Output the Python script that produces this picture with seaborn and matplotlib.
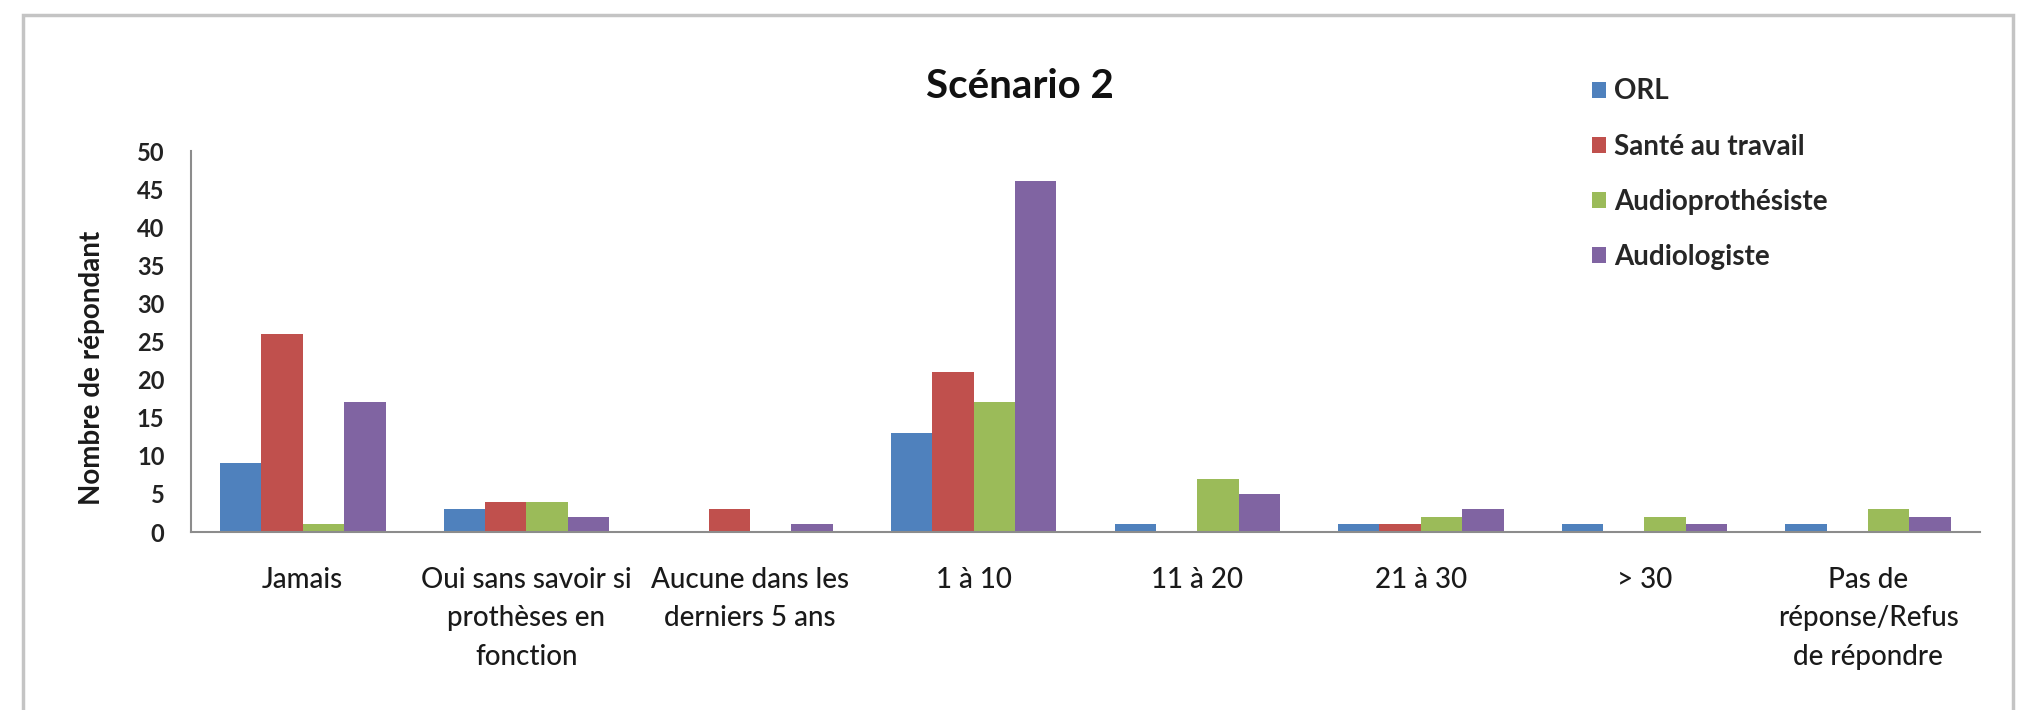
import matplotlib
matplotlib.use("Agg")
import matplotlib.pyplot as plt
import seaborn as sns
import pandas as pd
from matplotlib.patches import Rectangle

# Response categories (x axis)
categories = [
    "Jamais",
    "Oui sans savoir si\nprothèses en\nfonction",
    "Aucune dans les\nderniers 5 ans",
    "1 à 10",
    "11 à 20",
    "21 à 30",
    "> 30",
    "Pas de\nréponse/Refus\nde répondre",
]

# Respondent counts per profession
orl = [9, 3, 0, 13, 1, 1, 1, 1]
sante_travail = [26, 4, 3, 21, 0, 1, 0, 0]
audioprothesiste = [1, 4, 0, 17, 7, 2, 2, 3]
audiologiste = [17, 2, 1, 46, 5, 3, 1, 2]

series_names = ["ORL", "Santé au travail", "Audioprothésiste", "Audiologiste"]
series_values = [orl, sante_travail, audioprothesiste, audiologiste]
colors = ["#4F81BD", "#C0504D", "#9BBB59", "#8064A2"]

yticks = list(range(0, 55, 5))

rows = []
for name, vals in zip(series_names, series_values):
    for cat, v in zip(categories, vals):
        rows.append({"Catégorie": cat, "Profession": name, "Nombre": v})
df = pd.DataFrame(rows)

sns.set_theme(style="white")
plt.rcParams["font.family"] = ["Lato", "DejaVu Sans"]

fig = plt.figure(figsize=(20.23, 7.1), dpi=100)
fig.patch.set_facecolor("white")

# Light grey chart-area border
fig.patches.append(Rectangle((0.0114, -0.02), 0.9836, 0.999, transform=fig.transFigure,
                             fill=False, edgecolor="#C4C4C4", linewidth=2.5, zorder=0))

ax = fig.add_axes([0.0944, 0.2507, 0.8843, 0.5366])
sns.barplot(data=df, x="Catégorie", y="Nombre", hue="Profession",
            hue_order=series_names, order=categories, palette=colors,
            saturation=1, width=0.74, gap=0, linewidth=0, edgecolor="none",
            ax=ax, legend=True)

ax.set_ylim(0, 50)
ax.set_xlim(-0.5, len(categories) - 0.5)
ax.set_yticks(yticks)
ax.set_yticklabels([str(t) for t in yticks], fontsize=17, fontweight="bold", color="#222222")
ax.tick_params(axis="y", length=0, pad=19)
ax.tick_params(axis="x", length=0, pad=25)
for lab in ax.get_xticklabels():
    lab.set_fontsize(20)
    lab.set_fontweight("medium")
    lab.set_linespacing(1.6)
    lab.set_color("#1A1A1A")
ax.set_xlabel("")
ax.set_ylabel("Nombre de répondant", fontsize=20, fontweight="bold", color="#1A1A1A")
ax.yaxis.set_label_coords(-0.048, 0.43)

for side in ["top", "right"]:
    ax.spines[side].set_visible(False)
for side in ["left", "bottom"]:
    ax.spines[side].set_color("#8C8C8C")
    ax.spines[side].set_linewidth(1.5)

fig.text(0.504, 0.878, "Scénario 2", fontsize=29, fontweight="bold",
         ha="center", va="center", color="#111111")

handles, labels = ax.get_legend_handles_labels()
ax.legend_.remove()
fig.legend(handles, labels, loc="upper left", bbox_to_anchor=(0.780, 0.909),
           frameon=False, prop={"size": 20, "weight": "bold"},
           handlelength=0.5, handleheight=0.5, handletextpad=0.3,
           labelspacing=1.05, borderpad=0)

fig.savefig("out.png", dpi=100)
